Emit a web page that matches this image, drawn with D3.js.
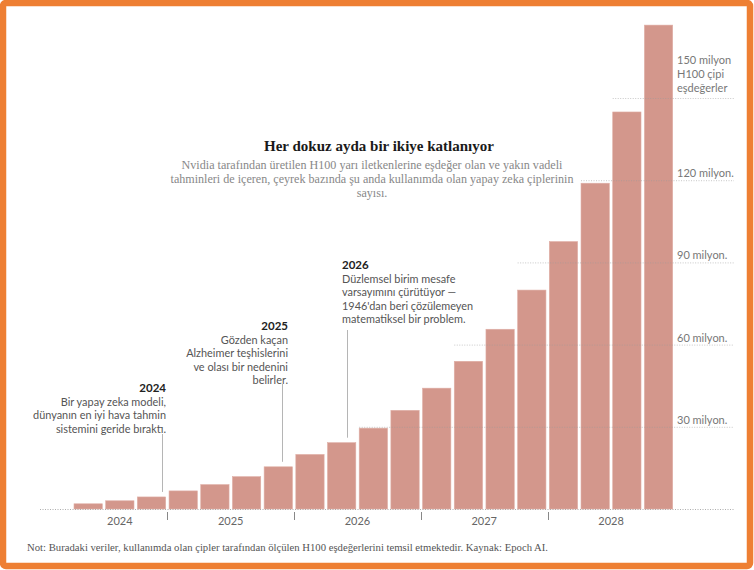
<!DOCTYPE html>
<html>
<head>
<meta charset="utf-8">
<script src="https://cdn.jsdelivr.net/npm/d3@7"></script>
<style>
  body { margin: 0; background: #fff; }
  svg { display: block; }
</style>
</head>
<body>
<div id="chart"></div>
<script>
// quarters shown in the chart (2024 Q2 -> 2028 Q4)
const quarters = [
  "2024 Q2", "2024 Q3", "2024 Q4",
  "2025 Q1", "2025 Q2", "2025 Q3", "2025 Q4",
  "2026 Q1", "2026 Q2", "2026 Q3", "2026 Q4",
  "2027 Q1", "2027 Q2", "2027 Q3", "2027 Q4",
  "2028 Q1", "2028 Q2", "2028 Q3", "2028 Q4"
];
// chips in use, millions of H100 equivalents
const chips = [
  1.9, 3.0, 4.4,
  6.6, 8.9, 11.8, 15.4,
  19.9, 24.2, 29.5, 36.0,
  44.1, 53.9, 65.6, 79.9,
  97.6, 118.9, 144.9, 176.6
];
const years = ["2024", "2025", "2026", "2027", "2028"];
const yTicks = [30, 60, 90, 120, 150];
const yTickLabels = ["30 milyon.", "60 milyon.", "90 milyon.", "120 milyon.", "150 milyon"];

const title = "Her dokuz ayda bir ikiye katlanıyor";
const subtitle = [
  "Nvidia tarafından üretilen H100 yarı iletkenlerine eşdeğer olan ve yakın vadeli",
  "tahminleri de içeren, çeyrek bazında şu anda kullanımda olan yapay zeka çiplerinin",
  "sayısı."
];
const note = "Not: Buradaki veriler, kullanımda olan çipler tarafından ölçülen H100 eşdeğerlerini temsil etmektedir.  Kaynak: Epoch AI.";

const annotations = [
  { year: "2024", quarter: "2024 Q4", at: 0.86, lines: ["Bir yapay zeka modeli,", "dünyanın en iyi hava tahmin", "sistemini geride bıraktı."], anchor: "end", tx: 166, ty: 388, lineTop: 434 },
  { year: "2025", quarter: "2025 Q4", at: 0.62, lines: ["Gözden kaçan", "Alzheimer teşhislerini", "ve olası bir nedenini", "belirler."], anchor: "end", tx: 288, ty: 326, lineTop: 384 },
  { year: "2026", quarter: "2026 Q2", at: 0.68, lines: ["Düzlemsel birim mesafe", "varsayımını çürütüyor —", "1946'dan beri çözülemeyen", "matematiksel bir problem."], anchor: "start", tx: 342, ty: 265, lineTop: 330 }
];

const W = 754, H = 570;
const svg = d3.select("#chart").append("svg")
    .attr("width", W)
    .attr("height", H);

svg.append("rect")
    .attr("width", W).attr("height", H)
    .attr("fill", "#fff");

const x = d3.scaleBand()
    .domain(quarters)
    .range([74, 672.7])
    .paddingInner(0.107)
    .paddingOuter(0);

const y = d3.scaleLinear()
    .domain([0, 150])
    .range([509, 98]);

// bars
svg.append("g")
  .selectAll("rect")
  .data(quarters)
  .join("rect")
    .attr("x", d => x(d))
    .attr("y", (d, i) => y(chips[i]))
    .attr("width", x.bandwidth())
    .attr("height", (d, i) => y(0) - y(chips[i]))
    .attr("fill", "#d3978c")
    .attr("stroke", "#dfaea5")
    .attr("stroke-width", 0.6);

// dotted gridlines over the bars: start just before the first bar reaching the value
const gridStart = v => {
  const i = chips.findIndex(c => c >= v);
  return x(quarters[i]) - x.step();
};

const grid = svg.append("g")
    .attr("stroke", "#9a9a9a")
    .attr("stroke-width", 1)
    .attr("stroke-dasharray", "1,1.5");

grid.append("line")
    .attr("x1", 40).attr("x2", 734)
    .attr("y1", y(0) + 0.5).attr("y2", y(0) + 0.5)
    .attr("stroke-opacity", 0.8);

grid.selectAll("line.g")
  .data(yTicks)
  .join("line")
    .attr("class", "g")
    .attr("x1", d => gridStart(d))
    .attr("x2", 734)
    .attr("y1", d => y(d) + 0.5)
    .attr("y2", d => y(d) + 0.5)
    .attr("stroke-opacity", 0.55);

// right-side value labels
const yl = svg.append("g")
    .attr("font-family", "Lato, sans-serif")
    .attr("font-size", 11)
    .attr("fill", "#777");

yl.selectAll("text")
  .data(yTicks.slice(0, 4))
  .join("text")
    .attr("x", 677)
    .attr("y", d => y(d) - 3)
    .text((d, i) => yTickLabels[i]);

yl.append("text")
    .attr("x", 677)
    .attr("y", y(150) - 34)
    .selectAll("tspan")
    .data([yTickLabels[4], "H100 çipi", "eşdeğerler"])
    .join("tspan")
      .attr("x", 677)
      .attr("dy", (d, i) => i === 0 ? 0 : 14)
      .text(d => d);

// year ticks and labels
const half = (x.step() - x.bandwidth()) / 2;
const firstQ = yr => quarters.find(q => q.startsWith(yr));
const lastQ = yr => quarters.filter(q => q.startsWith(yr)).pop();

svg.append("g")
  .selectAll("line")
  .data(years.slice(1))
  .join("line")
    .attr("x1", d => Math.round(x(firstQ(d)) - half) + 0.5)
    .attr("x2", d => Math.round(x(firstQ(d)) - half) + 0.5)
    .attr("y1", 512)
    .attr("y2", 520)
    .attr("stroke", "#888")
    .attr("stroke-width", 1);

svg.append("g")
  .selectAll("text")
  .data(years)
  .join("text")
    .attr("x", d => (x(firstQ(d)) + x(lastQ(d)) + x.bandwidth()) / 2)
    .attr("y", 525)
    .attr("text-anchor", "middle")
    .attr("font-family", "Lato, sans-serif")
    .attr("font-size", 11)
    .attr("fill", "#666")
    .text(d => d);

// annotations
annotations.forEach(a => {
  const i = quarters.indexOf(a.quarter);
  const lx = Math.round(x(a.quarter) + a.at * x.bandwidth()) + 0.5;
  svg.append("line")
      .attr("x1", lx).attr("x2", lx)
      .attr("y1", a.lineTop)
      .attr("y2", y(chips[i]) - 5)
      .attr("stroke", "#b5b5b5")
      .attr("stroke-width", 1);

  const t = svg.append("text")
      .attr("text-anchor", a.anchor)
      .attr("font-family", "Lato, sans-serif");
  t.append("tspan")
      .attr("x", a.tx)
      .attr("y", a.ty + 4)
      .attr("font-weight", "bold")
      .attr("font-size", 11.5)
      .attr("fill", "#222")
      .text(a.year);
  a.lines.forEach((l, k) => {
    t.append("tspan")
        .attr("x", a.tx)
        .attr("y", a.ty + 4 + (k + 1) * 13.5)
        .attr("font-size", 10.9)
        .attr("fill", "#555")
        .text(l);
  });
});

// title and subtitle
svg.append("text")
    .attr("x", 379)
    .attr("y", 151)
    .attr("text-anchor", "middle")
    .attr("font-family", "Liberation Serif, serif")
    .attr("font-weight", "bold")
    .attr("font-size", 15)
    .attr("fill", "#1a1a1a")
    .text(title);

svg.append("g")
  .selectAll("text")
  .data(subtitle)
  .join("text")
    .attr("x", 372)
    .attr("y", (d, i) => 169 + i * 14)
    .attr("text-anchor", "middle")
    .attr("font-family", "Liberation Serif, serif")
    .attr("font-size", 12.1)
    .attr("fill", "#888")
    .text(d => d);

// footnote
svg.append("text")
    .attr("x", 27)
    .attr("y", 551)
    .attr("font-family", "Liberation Serif, serif")
    .attr("font-size", 10.7)
    .attr("fill", "#555")
    .text(note);

// orange frame
svg.append("rect")
    .attr("x", 3).attr("y", 3)
    .attr("width", W - 7).attr("height", H - 7)
    .attr("fill", "none")
    .attr("stroke", "#ee7f33")
    .attr("stroke-width", 6.5)
    .attr("rx", 3);
</script>
</body>
</html>
